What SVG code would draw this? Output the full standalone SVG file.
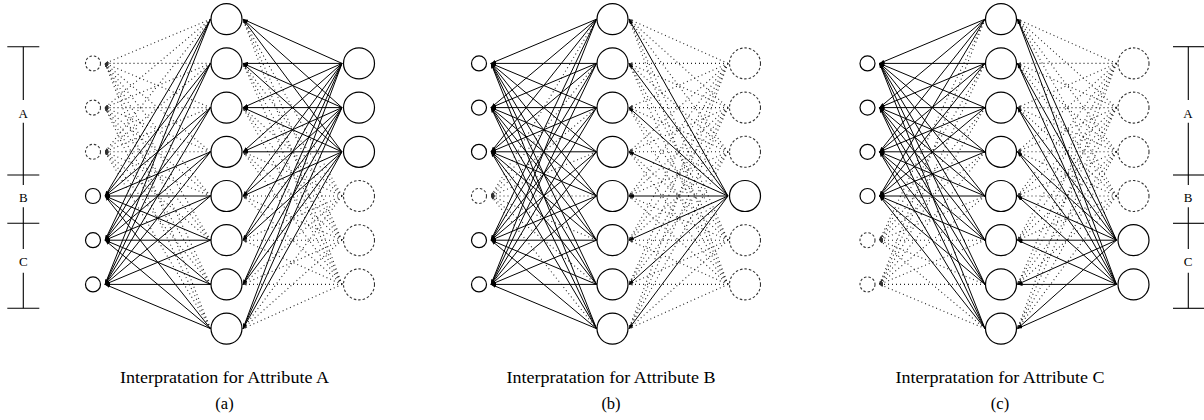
<svg xmlns="http://www.w3.org/2000/svg" width="1204" height="420" viewBox="0 0 1204 420">
<style>
.s path{fill:none;stroke:#000;stroke-width:1;marker-end:url(#ah)}
.d path{fill:none;stroke:#222;stroke-width:1.1;stroke-dasharray:1 3;marker-end:url(#ahd)}
.n{fill:#fff;stroke:#000;stroke-width:1.2}
.nd{fill:#fff;stroke:#333;stroke-width:1.1;stroke-dasharray:2.5 2}
.br line{stroke:#000;stroke-width:1.1}
text{font-family:"Liberation Serif","Times New Roman",serif;fill:#000;text-anchor:middle}
.cap{font-size:16.5px}
.lab{font-size:13px}
</style>
<defs>
<marker id="ah" viewBox="0 0 6 4" refX="6" refY="2" markerWidth="5" markerHeight="3.4" orient="auto" markerUnits="userSpaceOnUse"><path d="M0,0L6,2L0,4z" fill="#000"/></marker>
<marker id="ahd" viewBox="0 0 6 4" refX="6" refY="2" markerWidth="4" markerHeight="2.4" orient="auto" markerUnits="userSpaceOnUse"><path d="M0,0L6,2L0,4z" fill="#333"/></marker>
</defs>

<!-- connectors: hidden -> input (left) and output -> hidden (right) -->
<g id="connectors">
 <!-- (a) -->
 <g id="conn-a">
  <g class="d">
   <path d="M210.5 19.2L105 63.4"/><path d="M210.5 63.4L105 63.4"/><path d="M210.5 107.6L105 63.4"/><path d="M210.5 151.8L105 63.4"/><path d="M210.5 196L105 63.4"/><path d="M210.5 240.2L105 63.4"/><path d="M210.5 284.4L105 63.4"/><path d="M210.5 328.6L105 63.4"/>
   <path d="M210.5 19.2L105 107.6"/><path d="M210.5 63.4L105 107.6"/><path d="M210.5 107.6L105 107.6"/><path d="M210.5 151.8L105 107.6"/><path d="M210.5 196L105 107.6"/><path d="M210.5 240.2L105 107.6"/><path d="M210.5 284.4L105 107.6"/><path d="M210.5 328.6L105 107.6"/>
   <path d="M210.5 19.2L105 151.8"/><path d="M210.5 63.4L105 151.8"/><path d="M210.5 107.6L105 151.8"/><path d="M210.5 151.8L105 151.8"/><path d="M210.5 196L105 151.8"/><path d="M210.5 240.2L105 151.8"/><path d="M210.5 284.4L105 151.8"/><path d="M210.5 328.6L105 151.8"/>
   <path d="M342 196L243 19.2"/><path d="M342 196L243 63.4"/><path d="M342 196L243 107.6"/><path d="M342 196L243 151.8"/><path d="M342 196L243 196"/><path d="M342 196L243 240.2"/><path d="M342 196L243 284.4"/><path d="M342 196L243 328.6"/>
   <path d="M342 240.2L243 19.2"/><path d="M342 240.2L243 63.4"/><path d="M342 240.2L243 107.6"/><path d="M342 240.2L243 151.8"/><path d="M342 240.2L243 196"/><path d="M342 240.2L243 240.2"/><path d="M342 240.2L243 284.4"/><path d="M342 240.2L243 328.6"/>
   <path d="M342 284.4L243 19.2"/><path d="M342 284.4L243 63.4"/><path d="M342 284.4L243 107.6"/><path d="M342 284.4L243 151.8"/><path d="M342 284.4L243 196"/><path d="M342 284.4L243 240.2"/><path d="M342 284.4L243 284.4"/><path d="M342 284.4L243 328.6"/>
  </g>
  <g class="s">
   <path d="M210.5 19.2L105 196"/><path d="M210.5 63.4L105 196"/><path d="M210.5 107.6L105 196"/><path d="M210.5 151.8L105 196"/><path d="M210.5 196L105 196"/><path d="M210.5 240.2L105 196"/><path d="M210.5 284.4L105 196"/><path d="M210.5 328.6L105 196"/>
   <path d="M210.5 19.2L105 240.2"/><path d="M210.5 63.4L105 240.2"/><path d="M210.5 107.6L105 240.2"/><path d="M210.5 151.8L105 240.2"/><path d="M210.5 196L105 240.2"/><path d="M210.5 240.2L105 240.2"/><path d="M210.5 284.4L105 240.2"/><path d="M210.5 328.6L105 240.2"/>
   <path d="M210.5 19.2L105 284.4"/><path d="M210.5 63.4L105 284.4"/><path d="M210.5 107.6L105 284.4"/><path d="M210.5 151.8L105 284.4"/><path d="M210.5 196L105 284.4"/><path d="M210.5 240.2L105 284.4"/><path d="M210.5 284.4L105 284.4"/><path d="M210.5 328.6L105 284.4"/>
   <path d="M342 63.4L243 19.2"/><path d="M342 63.4L243 63.4"/><path d="M342 63.4L243 107.6"/><path d="M342 63.4L243 151.8"/><path d="M342 63.4L243 196"/><path d="M342 63.4L243 240.2"/><path d="M342 63.4L243 284.4"/><path d="M342 63.4L243 328.6"/>
   <path d="M342 107.6L243 19.2"/><path d="M342 107.6L243 63.4"/><path d="M342 107.6L243 107.6"/><path d="M342 107.6L243 151.8"/><path d="M342 107.6L243 196"/><path d="M342 107.6L243 240.2"/><path d="M342 107.6L243 284.4"/><path d="M342 107.6L243 328.6"/>
   <path d="M342 151.8L243 19.2"/><path d="M342 151.8L243 63.4"/><path d="M342 151.8L243 107.6"/><path d="M342 151.8L243 151.8"/><path d="M342 151.8L243 196"/><path d="M342 151.8L243 240.2"/><path d="M342 151.8L243 284.4"/><path d="M342 151.8L243 328.6"/>
  </g>
 </g>
 <!-- (b) -->
 <g id="conn-b" transform="translate(386 0)">
  <g class="d">
   <path d="M210.5 19.2L105 196"/><path d="M210.5 63.4L105 196"/><path d="M210.5 107.6L105 196"/><path d="M210.5 151.8L105 196"/><path d="M210.5 196L105 196"/><path d="M210.5 240.2L105 196"/><path d="M210.5 284.4L105 196"/><path d="M210.5 328.6L105 196"/>
   <path d="M342 63.4L243 19.2"/><path d="M342 63.4L243 63.4"/><path d="M342 63.4L243 107.6"/><path d="M342 63.4L243 151.8"/><path d="M342 63.4L243 196"/><path d="M342 63.4L243 240.2"/><path d="M342 63.4L243 284.4"/><path d="M342 63.4L243 328.6"/>
   <path d="M342 107.6L243 19.2"/><path d="M342 107.6L243 63.4"/><path d="M342 107.6L243 107.6"/><path d="M342 107.6L243 151.8"/><path d="M342 107.6L243 196"/><path d="M342 107.6L243 240.2"/><path d="M342 107.6L243 284.4"/><path d="M342 107.6L243 328.6"/>
   <path d="M342 151.8L243 19.2"/><path d="M342 151.8L243 63.4"/><path d="M342 151.8L243 107.6"/><path d="M342 151.8L243 151.8"/><path d="M342 151.8L243 196"/><path d="M342 151.8L243 240.2"/><path d="M342 151.8L243 284.4"/><path d="M342 151.8L243 328.6"/>
   <path d="M342 240.2L243 19.2"/><path d="M342 240.2L243 63.4"/><path d="M342 240.2L243 107.6"/><path d="M342 240.2L243 151.8"/><path d="M342 240.2L243 196"/><path d="M342 240.2L243 240.2"/><path d="M342 240.2L243 284.4"/><path d="M342 240.2L243 328.6"/>
   <path d="M342 284.4L243 19.2"/><path d="M342 284.4L243 63.4"/><path d="M342 284.4L243 107.6"/><path d="M342 284.4L243 151.8"/><path d="M342 284.4L243 196"/><path d="M342 284.4L243 240.2"/><path d="M342 284.4L243 284.4"/><path d="M342 284.4L243 328.6"/>
  </g>
  <g class="s">
   <path d="M210.5 19.2L105 63.4"/><path d="M210.5 63.4L105 63.4"/><path d="M210.5 107.6L105 63.4"/><path d="M210.5 151.8L105 63.4"/><path d="M210.5 196L105 63.4"/><path d="M210.5 240.2L105 63.4"/><path d="M210.5 284.4L105 63.4"/><path d="M210.5 328.6L105 63.4"/>
   <path d="M210.5 19.2L105 107.6"/><path d="M210.5 63.4L105 107.6"/><path d="M210.5 107.6L105 107.6"/><path d="M210.5 151.8L105 107.6"/><path d="M210.5 196L105 107.6"/><path d="M210.5 240.2L105 107.6"/><path d="M210.5 284.4L105 107.6"/><path d="M210.5 328.6L105 107.6"/>
   <path d="M210.5 19.2L105 151.8"/><path d="M210.5 63.4L105 151.8"/><path d="M210.5 107.6L105 151.8"/><path d="M210.5 151.8L105 151.8"/><path d="M210.5 196L105 151.8"/><path d="M210.5 240.2L105 151.8"/><path d="M210.5 284.4L105 151.8"/><path d="M210.5 328.6L105 151.8"/>
   <path d="M210.5 19.2L105 240.2"/><path d="M210.5 63.4L105 240.2"/><path d="M210.5 107.6L105 240.2"/><path d="M210.5 151.8L105 240.2"/><path d="M210.5 196L105 240.2"/><path d="M210.5 240.2L105 240.2"/><path d="M210.5 284.4L105 240.2"/><path d="M210.5 328.6L105 240.2"/>
   <path d="M210.5 19.2L105 284.4"/><path d="M210.5 63.4L105 284.4"/><path d="M210.5 107.6L105 284.4"/><path d="M210.5 151.8L105 284.4"/><path d="M210.5 196L105 284.4"/><path d="M210.5 240.2L105 284.4"/><path d="M210.5 284.4L105 284.4"/><path d="M210.5 328.6L105 284.4"/>
   <path d="M342 196L243 19.2"/><path d="M342 196L243 63.4"/><path d="M342 196L243 107.6"/><path d="M342 196L243 151.8"/><path d="M342 196L243 196"/><path d="M342 196L243 240.2"/><path d="M342 196L243 284.4"/><path d="M342 196L243 328.6"/>
  </g>
 </g>
 <!-- (c) -->
 <g id="conn-c" transform="translate(774.5 0)">
  <g class="d">
   <path d="M210.5 19.2L105 240.2"/><path d="M210.5 63.4L105 240.2"/><path d="M210.5 107.6L105 240.2"/><path d="M210.5 151.8L105 240.2"/><path d="M210.5 196L105 240.2"/><path d="M210.5 240.2L105 240.2"/><path d="M210.5 284.4L105 240.2"/><path d="M210.5 328.6L105 240.2"/>
   <path d="M210.5 19.2L105 284.4"/><path d="M210.5 63.4L105 284.4"/><path d="M210.5 107.6L105 284.4"/><path d="M210.5 151.8L105 284.4"/><path d="M210.5 196L105 284.4"/><path d="M210.5 240.2L105 284.4"/><path d="M210.5 284.4L105 284.4"/><path d="M210.5 328.6L105 284.4"/>
   <path d="M342 63.4L243 19.2"/><path d="M342 63.4L243 63.4"/><path d="M342 63.4L243 107.6"/><path d="M342 63.4L243 151.8"/><path d="M342 63.4L243 196"/><path d="M342 63.4L243 240.2"/><path d="M342 63.4L243 284.4"/><path d="M342 63.4L243 328.6"/>
   <path d="M342 107.6L243 19.2"/><path d="M342 107.6L243 63.4"/><path d="M342 107.6L243 107.6"/><path d="M342 107.6L243 151.8"/><path d="M342 107.6L243 196"/><path d="M342 107.6L243 240.2"/><path d="M342 107.6L243 284.4"/><path d="M342 107.6L243 328.6"/>
   <path d="M342 151.8L243 19.2"/><path d="M342 151.8L243 63.4"/><path d="M342 151.8L243 107.6"/><path d="M342 151.8L243 151.8"/><path d="M342 151.8L243 196"/><path d="M342 151.8L243 240.2"/><path d="M342 151.8L243 284.4"/><path d="M342 151.8L243 328.6"/>
   <path d="M342 196L243 19.2"/><path d="M342 196L243 63.4"/><path d="M342 196L243 107.6"/><path d="M342 196L243 151.8"/><path d="M342 196L243 196"/><path d="M342 196L243 240.2"/><path d="M342 196L243 284.4"/><path d="M342 196L243 328.6"/>
  </g>
  <g class="s">
   <path d="M210.5 19.2L105 63.4"/><path d="M210.5 63.4L105 63.4"/><path d="M210.5 107.6L105 63.4"/><path d="M210.5 151.8L105 63.4"/><path d="M210.5 196L105 63.4"/><path d="M210.5 240.2L105 63.4"/><path d="M210.5 284.4L105 63.4"/><path d="M210.5 328.6L105 63.4"/>
   <path d="M210.5 19.2L105 107.6"/><path d="M210.5 63.4L105 107.6"/><path d="M210.5 107.6L105 107.6"/><path d="M210.5 151.8L105 107.6"/><path d="M210.5 196L105 107.6"/><path d="M210.5 240.2L105 107.6"/><path d="M210.5 284.4L105 107.6"/><path d="M210.5 328.6L105 107.6"/>
   <path d="M210.5 19.2L105 151.8"/><path d="M210.5 63.4L105 151.8"/><path d="M210.5 107.6L105 151.8"/><path d="M210.5 151.8L105 151.8"/><path d="M210.5 196L105 151.8"/><path d="M210.5 240.2L105 151.8"/><path d="M210.5 284.4L105 151.8"/><path d="M210.5 328.6L105 151.8"/>
   <path d="M210.5 19.2L105 196"/><path d="M210.5 63.4L105 196"/><path d="M210.5 107.6L105 196"/><path d="M210.5 151.8L105 196"/><path d="M210.5 196L105 196"/><path d="M210.5 240.2L105 196"/><path d="M210.5 284.4L105 196"/><path d="M210.5 328.6L105 196"/>
   <path d="M342 240.2L243 19.2"/><path d="M342 240.2L243 63.4"/><path d="M342 240.2L243 107.6"/><path d="M342 240.2L243 151.8"/><path d="M342 240.2L243 196"/><path d="M342 240.2L243 240.2"/><path d="M342 240.2L243 284.4"/><path d="M342 240.2L243 328.6"/>
   <path d="M342 284.4L243 19.2"/><path d="M342 284.4L243 63.4"/><path d="M342 284.4L243 107.6"/><path d="M342 284.4L243 151.8"/><path d="M342 284.4L243 196"/><path d="M342 284.4L243 240.2"/><path d="M342 284.4L243 284.4"/><path d="M342 284.4L243 328.6"/>
  </g>
 </g>
</g>

<!-- panel (a) nodes -->
<g id="a-in1"><circle class="nd" cx="93" cy="63.4" r="7.5"/></g>
<g id="a-in2"><circle class="nd" cx="93" cy="107.6" r="7.5"/></g>
<g id="a-in3"><circle class="nd" cx="93" cy="151.8" r="7.5"/></g>
<g id="a-in4"><circle class="n" cx="93" cy="196" r="7.5"/></g>
<g id="a-in5"><circle class="n" cx="93" cy="240.2" r="7.5"/></g>
<g id="a-in6"><circle class="n" cx="93" cy="284.4" r="7.5"/></g>
<g id="a-h1"><circle class="n" cx="226.5" cy="19.2" r="15.5"/></g>
<g id="a-h2"><circle class="n" cx="226.5" cy="63.4" r="15.5"/></g>
<g id="a-h3"><circle class="n" cx="226.5" cy="107.6" r="15.5"/></g>
<g id="a-h4"><circle class="n" cx="226.5" cy="151.8" r="15.5"/></g>
<g id="a-h5"><circle class="n" cx="226.5" cy="196" r="15.5"/></g>
<g id="a-h6"><circle class="n" cx="226.5" cy="240.2" r="15.5"/></g>
<g id="a-h7"><circle class="n" cx="226.5" cy="284.4" r="15.5"/></g>
<g id="a-h8"><circle class="n" cx="226.5" cy="328.6" r="15.5"/></g>
<g id="a-out1"><circle class="n" cx="359" cy="63.4" r="15.5"/></g>
<g id="a-out2"><circle class="n" cx="359" cy="107.6" r="15.5"/></g>
<g id="a-out3"><circle class="n" cx="359" cy="151.8" r="15.5"/></g>
<g id="a-out4"><circle class="nd" cx="359" cy="196" r="15.5"/></g>
<g id="a-out5"><circle class="nd" cx="359" cy="240.2" r="15.5"/></g>
<g id="a-out6"><circle class="nd" cx="359" cy="284.4" r="15.5"/></g>

<!-- panel (b) nodes -->
<g id="b-in1"><circle class="n" cx="479" cy="63.4" r="7.5"/></g>
<g id="b-in2"><circle class="n" cx="479" cy="107.6" r="7.5"/></g>
<g id="b-in3"><circle class="n" cx="479" cy="151.8" r="7.5"/></g>
<g id="b-in4"><circle class="nd" cx="479" cy="196" r="7.5"/></g>
<g id="b-in5"><circle class="n" cx="479" cy="240.2" r="7.5"/></g>
<g id="b-in6"><circle class="n" cx="479" cy="284.4" r="7.5"/></g>
<g id="b-h1"><circle class="n" cx="612.5" cy="19.2" r="15.5"/></g>
<g id="b-h2"><circle class="n" cx="612.5" cy="63.4" r="15.5"/></g>
<g id="b-h3"><circle class="n" cx="612.5" cy="107.6" r="15.5"/></g>
<g id="b-h4"><circle class="n" cx="612.5" cy="151.8" r="15.5"/></g>
<g id="b-h5"><circle class="n" cx="612.5" cy="196" r="15.5"/></g>
<g id="b-h6"><circle class="n" cx="612.5" cy="240.2" r="15.5"/></g>
<g id="b-h7"><circle class="n" cx="612.5" cy="284.4" r="15.5"/></g>
<g id="b-h8"><circle class="n" cx="612.5" cy="328.6" r="15.5"/></g>
<g id="b-out1"><circle class="nd" cx="745" cy="63.4" r="15.5"/></g>
<g id="b-out2"><circle class="nd" cx="745" cy="107.6" r="15.5"/></g>
<g id="b-out3"><circle class="nd" cx="745" cy="151.8" r="15.5"/></g>
<g id="b-out4"><circle class="n" cx="745" cy="196" r="15.5"/></g>
<g id="b-out5"><circle class="nd" cx="745" cy="240.2" r="15.5"/></g>
<g id="b-out6"><circle class="nd" cx="745" cy="284.4" r="15.5"/></g>

<!-- panel (c) nodes -->
<g id="c-in1"><circle class="n" cx="867.5" cy="63.4" r="7.5"/></g>
<g id="c-in2"><circle class="n" cx="867.5" cy="107.6" r="7.5"/></g>
<g id="c-in3"><circle class="n" cx="867.5" cy="151.8" r="7.5"/></g>
<g id="c-in4"><circle class="n" cx="867.5" cy="196" r="7.5"/></g>
<g id="c-in5"><circle class="nd" cx="867.5" cy="240.2" r="7.5"/></g>
<g id="c-in6"><circle class="nd" cx="867.5" cy="284.4" r="7.5"/></g>
<g id="c-h1"><circle class="n" cx="1001" cy="19.2" r="15.5"/></g>
<g id="c-h2"><circle class="n" cx="1001" cy="63.4" r="15.5"/></g>
<g id="c-h3"><circle class="n" cx="1001" cy="107.6" r="15.5"/></g>
<g id="c-h4"><circle class="n" cx="1001" cy="151.8" r="15.5"/></g>
<g id="c-h5"><circle class="n" cx="1001" cy="196" r="15.5"/></g>
<g id="c-h6"><circle class="n" cx="1001" cy="240.2" r="15.5"/></g>
<g id="c-h7"><circle class="n" cx="1001" cy="284.4" r="15.5"/></g>
<g id="c-h8"><circle class="n" cx="1001" cy="328.6" r="15.5"/></g>
<g id="c-out1"><circle class="nd" cx="1133.5" cy="63.4" r="15.5"/></g>
<g id="c-out2"><circle class="nd" cx="1133.5" cy="107.6" r="15.5"/></g>
<g id="c-out3"><circle class="nd" cx="1133.5" cy="151.8" r="15.5"/></g>
<g id="c-out4"><circle class="nd" cx="1133.5" cy="196" r="15.5"/></g>
<g id="c-out5"><circle class="n" cx="1133.5" cy="240.2" r="15.5"/></g>
<g id="c-out6"><circle class="n" cx="1133.5" cy="284.4" r="15.5"/></g>

<!-- attribute range brackets -->
<g id="bracket-left" class="br">
 <line x1="23.3" y1="46.7" x2="23.3" y2="100"/>
 <line x1="23.3" y1="122.7" x2="23.3" y2="185"/>
 <line x1="23.3" y1="207.3" x2="23.3" y2="249"/>
 <line x1="23.3" y1="272.7" x2="23.3" y2="308.3"/>
 <line x1="7.3" y1="46.7" x2="39.3" y2="46.7"/>
 <line x1="7.3" y1="175" x2="39.3" y2="175"/>
 <line x1="7.3" y1="223.3" x2="39.3" y2="223.3"/>
 <line x1="7.3" y1="308.3" x2="39.3" y2="308.3"/>
 <text class="lab" x="23.3" y="117.5">A</text>
 <text class="lab" x="23.3" y="202">B</text>
 <text class="lab" x="23.3" y="266">C</text>
</g>
<g id="bracket-right" class="br">
 <line x1="1188.3" y1="46.7" x2="1188.3" y2="100"/>
 <line x1="1188.3" y1="122.7" x2="1188.3" y2="185"/>
 <line x1="1188.3" y1="207.3" x2="1188.3" y2="249"/>
 <line x1="1188.3" y1="272.7" x2="1188.3" y2="308.3"/>
 <line x1="1173" y1="46.7" x2="1204" y2="46.7"/>
 <line x1="1173" y1="175" x2="1204" y2="175"/>
 <line x1="1173" y1="223.3" x2="1204" y2="223.3"/>
 <line x1="1173" y1="308.3" x2="1204" y2="308.3"/>
 <text class="lab" x="1188" y="117.5">A</text>
 <text class="lab" x="1188" y="202">B</text>
 <text class="lab" x="1188" y="266">C</text>
</g>

<!-- captions -->
<g id="captions">
 <text class="cap" x="224.5" y="383" textLength="209" lengthAdjust="spacingAndGlyphs">Interpratation for Attribute A</text>
 <text class="cap" x="224.5" y="409">(a)</text>
 <text class="cap" x="611" y="383" textLength="209" lengthAdjust="spacingAndGlyphs">Interpratation for Attribute B</text>
 <text class="cap" x="611" y="409">(b)</text>
 <text class="cap" x="1000" y="383" textLength="209" lengthAdjust="spacingAndGlyphs">Interpratation for Attribute C</text>
 <text class="cap" x="1000" y="409">(c)</text>
</g>
</svg>
